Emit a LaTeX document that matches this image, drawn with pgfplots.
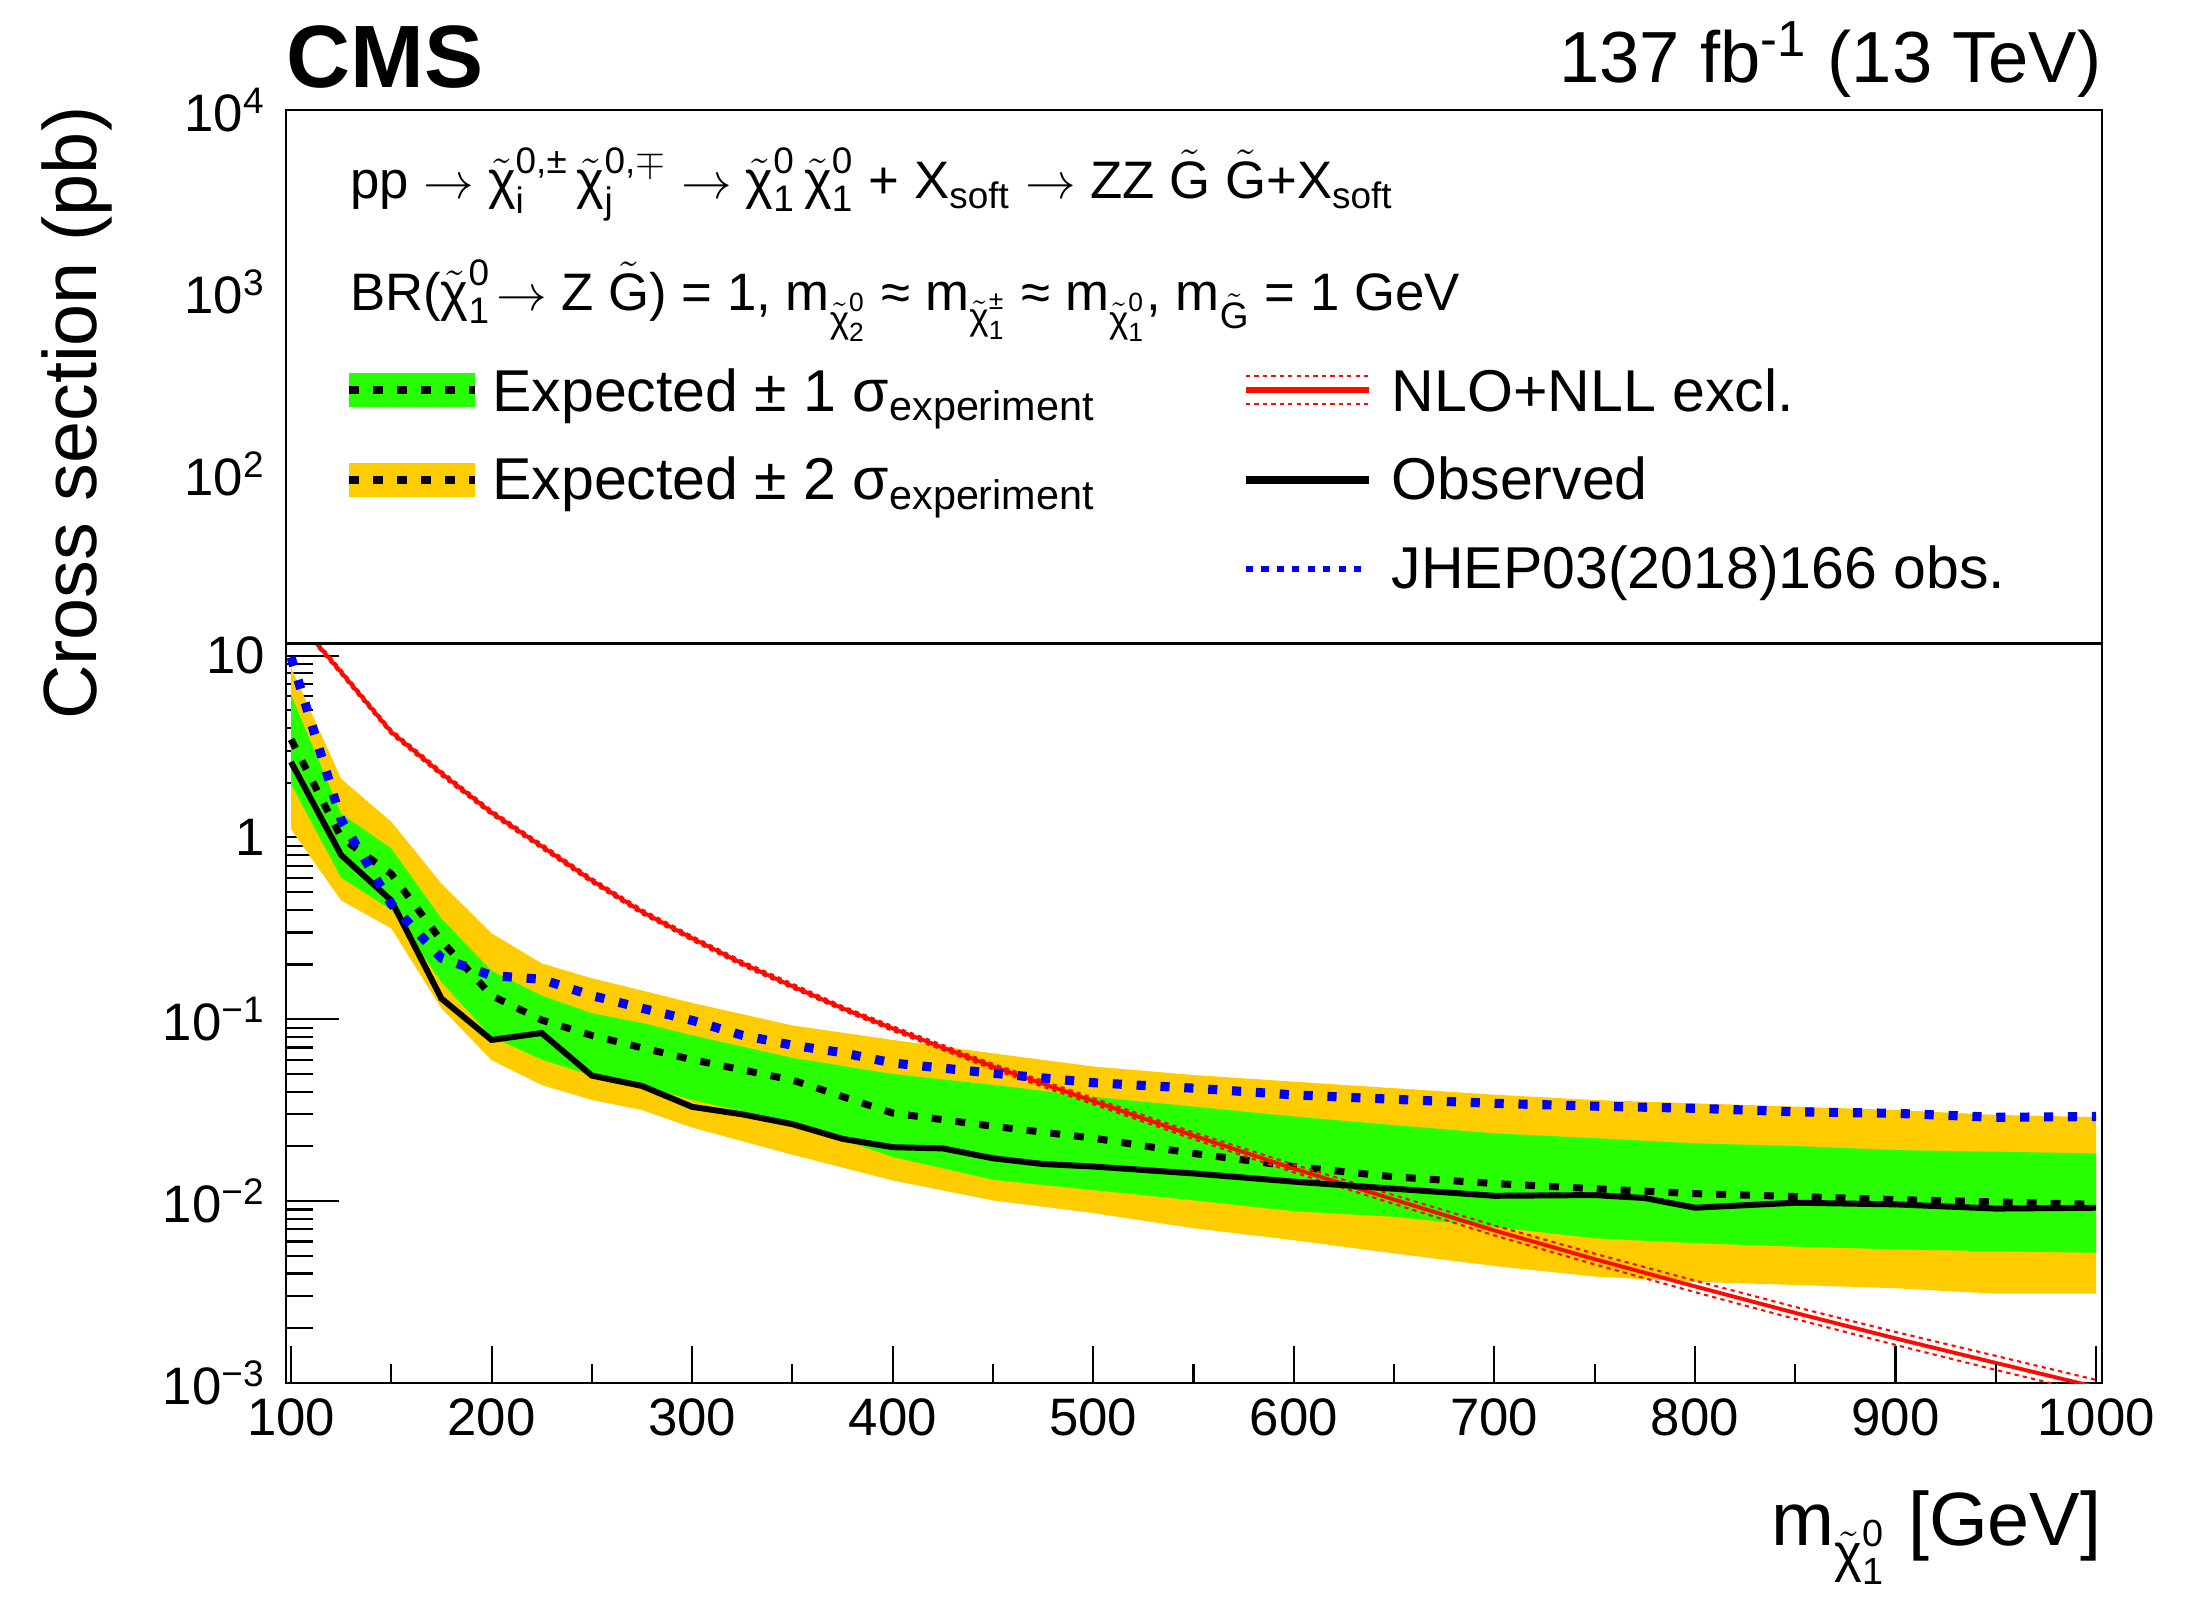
\documentclass[border=0pt]{standalone}
\usepackage{amsmath}
\usepackage{fontspec}
\setmainfont{Liberation Sans}
\usepackage{pgfplots}
\pgfplotsset{compat=1.18}
\definecolor{rgreen}{RGB}{40,255,0}
\definecolor{ryellow}{RGB}{255,204,0}
\definecolor{rblue}{RGB}{0,0,255}
\definecolor{rred}{RGB}{255,10,0}
\newcommand{\chit}{\tilde{\text{χ}}}
\newcommand{\Gt}{\tilde{\text{G}}}
\newcommand{\tickfont}{\fontsize{15}{18}\selectfont}
\newcommand{\legfont}{\fontsize{16.8}{20}\selectfont}
\newcommand{\procfont}{\fontsize{15}{18}\selectfont}
\newcommand{\labfont}{\fontsize{21.5}{26}\selectfont}
\tikzset{
  expstyle/.style={black, line width=2pt, dash pattern=on 2.8pt off 4pt},
  obsstyle/.style={black, line width=1.7pt},
  bluestyle/.style={rblue, line width=2.6pt, dash pattern=on 2.6pt off 4.2pt},
  redstyle/.style={rred, line width=1.1pt},
  reddash/.style={rred, line width=0.6pt, dash pattern=on 1.2pt off 1.2pt},
}
\begin{document}
\begin{tikzpicture}
\begin{axis}[
  name=ax, scale only axis, width=18.16cm, height=12.73cm,
  ymode=log, xmin=97.5, xmax=1003, ymin=1e-3, ymax=1e4,
  axis line style={line width=0.8pt},
  xtick=\empty,
  ytick pos=left,
  ytick={1e-3,1e-2,1e-1,1,10,100,1000,10000},
  yticklabels={10\textsuperscript{−3},10\textsuperscript{−2},10\textsuperscript{−1},1,10,10\textsuperscript{2},10\textsuperscript{3},10\textsuperscript{4}},
  minor ytick={2e-3,3e-3,4e-3,5e-3,6e-3,7e-3,8e-3,9e-3,0.02,0.03,0.04,0.05,0.06,0.07,0.08,0.09,0.2,0.3,0.4,0.5,0.6,0.7,0.8,0.9,2,3,4,5,6,7,8,9},
  yticklabel style={font=\tickfont, inner sep=0pt, anchor=east, xshift=-0.2cm},
  major tick length=0.53cm, minor tick length=0.27cm,
  tick style={black, line width=0.6pt},
  clip=true,
]
% +-2 sigma band
\addplot[fill=ryellow, draw=none] coordinates {
(100,8.6)(125,2.1)(150,1.22)(175,0.557)(200,0.297)(225,0.203)(250,0.168)(275,0.144)(300,0.123)(350,0.0925)(400,0.077)(450,0.065)(500,0.055)(550,0.0494)(600,0.0454)(650,0.0418)(700,0.0385)(750,0.036)(800,0.0345)(850,0.0331)(900,0.0317)(950,0.0298)(1000,0.029)
(1000,0.0031)(950,0.0031)(900,0.00332)(850,0.00346)(800,0.0036)(750,0.00385)(700,0.0044)(650,0.00516)(600,0.0061)(550,0.0071)(500,0.0086)(450,0.0101)(400,0.013)(350,0.018)(300,0.0254)(275,0.0317)(250,0.036)(225,0.0435)(200,0.0596)(175,0.115)(150,0.316)(125,0.45)(100,1.11)
} -- cycle;
% +-1 sigma band
\addplot[fill=rgreen, draw=none] coordinates {
(100,6.1)(125,1.35)(150,0.87)(175,0.358)(200,0.185)(225,0.135)(250,0.108)(275,0.0955)(300,0.0816)(350,0.0614)(400,0.050)(450,0.0436)(500,0.0375)(550,0.0331)(600,0.0292)(650,0.0262)(700,0.0236)(750,0.0222)(800,0.0208)(850,0.0201)(900,0.0191)(950,0.0187)(1000,0.0183)
(1000,0.0052)(950,0.0053)(900,0.00543)(850,0.00562)(800,0.00587)(750,0.00625)(700,0.0072)(650,0.0082)(600,0.0088)(550,0.0101)(500,0.0115)(450,0.0131)(400,0.0175)(350,0.027)(300,0.036)(275,0.043)(250,0.049)(225,0.06)(200,0.08)(175,0.16)(150,0.40)(125,0.60)(100,1.96)
} -- cycle;
% expected
\addplot[expstyle] coordinates {
(100,3.46)(125,1.0)(150,0.63)(175,0.27)(200,0.135)(225,0.099)(250,0.0815)(275,0.0697)(300,0.060)(350,0.0463)(400,0.0305)(450,0.0258)(500,0.0222)(550,0.0183)(600,0.0155)(650,0.0136)(700,0.0125)(750,0.0117)(800,0.011)(850,0.0106)(900,0.0102)(950,0.0099)(1000,0.0096)
};
% theory uncertainty
\addplot[reddash] coordinates {
(100,17.5)(125,8.34)(150,3.91)(175,2.32)(200,1.41)(225,0.921)(250,0.597)(275,0.402)(300,0.287)(325,0.209)(350,0.157)(375,0.118)(400,0.0917)(450,0.0569)(500,0.0369)(550,0.0239)(600,0.0159)(650,0.01078)(700,0.00735)(750,0.00514)(800,0.00366)(850,0.00262)(900,0.00191)(950,0.00141)(1000,0.00104)
};
\addplot[reddash] coordinates {
(100,16.5)(125,7.86)(150,3.69)(175,2.18)(200,1.33)(225,0.868)(250,0.563)(275,0.379)(300,0.271)(325,0.197)(350,0.148)(375,0.112)(400,0.0864)(450,0.0531)(500,0.0341)(550,0.0219)(600,0.0144)(650,0.00965)(700,0.00648)(750,0.00449)(800,0.00316)(850,0.00225)(900,0.00162)(950,0.00118)(1000,0.00087)
};
% theory
\addplot[redstyle] coordinates {
(100,17.0)(125,8.1)(150,3.8)(175,2.25)(200,1.37)(225,0.894)(250,0.58)(275,0.39)(300,0.279)(325,0.203)(350,0.152)(375,0.115)(400,0.089)(450,0.055)(500,0.0355)(550,0.0229)(600,0.0151)(650,0.0102)(700,0.0069)(750,0.0048)(800,0.0034)(850,0.00243)(900,0.00176)(950,0.00129)(1000,0.00095)
};
% observed
\addplot[obsstyle] coordinates {
(100,2.6)(125,0.80)(150,0.45)(175,0.13)(200,0.077)(225,0.084)(250,0.049)(275,0.043)(300,0.033)(325,0.030)(350,0.0265)(375,0.022)(400,0.0198)(425,0.0195)(450,0.0172)(475,0.016)(500,0.0155)(550,0.0142)(600,0.0128)(650,0.0117)(700,0.0107)(750,0.0108)(775,0.0104)(800,0.0092)(850,0.0098)(900,0.0096)(950,0.0091)(1000,0.0092)
};
% previous result
\addplot[bluestyle] coordinates {
(100,9.8)(125,1.25)(150,0.43)(175,0.217)(200,0.174)(225,0.166)(250,0.135)(275,0.115)(300,0.0986)(325,0.0817)(350,0.072)(375,0.0655)(400,0.0575)(450,0.0505)(500,0.0448)(550,0.0418)(600,0.0384)(650,0.0363)(700,0.0345)(750,0.0333)(800,0.0324)(850,0.031)(900,0.0304)(950,0.0289)(1000,0.0292)
};
\coordinate (lb) at (rel axis cs:0,0.5807);
\end{axis}
\begin{axis}[
  scale only axis, width=18.16cm, height=12.73cm,
  xmin=97.5, xmax=1003, ymin=0, ymax=1,
  axis line style={draw=none},
  ytick=\empty, xtick pos=left,
  xtick={100,200,300,400,500,600,700,800,900,1000},
  xticklabels={100,200,300,400,500,600,700,800,900,1000},
  minor x tick num=1,
  xticklabel style={font=\tickfont, inner sep=0pt, anchor=north, yshift=-0.15cm},
  major tick length=0.37cm, minor tick length=0.19cm,
  tick style={black, line width=0.6pt},
]
\addplot[draw=none] coordinates {(500,0.5)};
\end{axis}
% legend box
\filldraw[fill=white, draw=black, line width=0.8pt] (lb) rectangle (ax.north east);
\node[anchor=base west, inner sep=0pt, font=\procfont] at ([shift={(0.634cm,-0.89cm)}]ax.north west)
  {pp $\rightarrow \chit^{\text{0,±}}_{\text{i}}\,\chit^{\text{0,}\mp}_{\text{j}}\rightarrow \chit^{\text{0}}_{\text{1}}\,\chit^{\text{0}}_{\text{1}}$ + X$_{\text{soft}}$ $\rightarrow$ ZZ $\Gt$ $\Gt$+X$_{\text{soft}}$};
\node[anchor=base west, inner sep=0pt, font=\procfont] at ([shift={(0.634cm,-2.01cm)}]ax.north west)
  {BR($\chit^{\text{0}}_{\text{1}}\!\rightarrow$ Z $\Gt$) = 1, m$_{\chit^{\text{0}}_{\text{2}}}$ ≈ m$_{\chit^{\text{±}}_{\text{1}}}$ ≈ m$_{\chit^{\text{0}}_{\text{1}}}$, m$_{\Gt}$ = 1 GeV};
% legend entries left
\fill[rgreen] ([shift={(0.634cm,-2.97cm)}]ax.north west) rectangle ([shift={(1.887cm,-2.63cm)}]ax.north west);
\draw[expstyle] ([shift={(0.634cm,-2.80cm)}]ax.north west) -- ([shift={(1.887cm,-2.80cm)}]ax.north west);
\node[anchor=base west, inner sep=0pt, font=\legfont] at ([shift={(2.056cm,-3.013cm)}]ax.north west) {Expected ± 1 σ$_{\text{experiment}}$};
\fill[ryellow] ([shift={(0.634cm,-3.87cm)}]ax.north west) rectangle ([shift={(1.887cm,-3.53cm)}]ax.north west);
\draw[expstyle] ([shift={(0.634cm,-3.70cm)}]ax.north west) -- ([shift={(1.887cm,-3.70cm)}]ax.north west);
\node[anchor=base west, inner sep=0pt, font=\legfont] at ([shift={(2.056cm,-3.90cm)}]ax.north west) {Expected ± 2 σ$_{\text{experiment}}$};
% legend entries right
\draw[redstyle, line width=1.6pt] ([shift={(9.60cm,-2.80cm)}]ax.north west) -- ([shift={(10.83cm,-2.80cm)}]ax.north west);
\draw[reddash] ([shift={(9.60cm,-2.66cm)}]ax.north west) -- ([shift={(10.83cm,-2.66cm)}]ax.north west);
\draw[reddash] ([shift={(9.60cm,-2.94cm)}]ax.north west) -- ([shift={(10.83cm,-2.94cm)}]ax.north west);
\node[anchor=base west, inner sep=0pt, font=\legfont] at ([shift={(11.05cm,-3.013cm)}]ax.north west) {NLO+NLL excl.};
\draw[obsstyle, line width=2.4pt] ([shift={(9.60cm,-3.70cm)}]ax.north west) -- ([shift={(10.83cm,-3.70cm)}]ax.north west);
\node[anchor=base west, inner sep=0pt, font=\legfont] at ([shift={(11.05cm,-3.90cm)}]ax.north west) {Observed};
\draw[rblue, line width=1.5pt, dash pattern=on 2pt off 2.4pt] ([shift={(9.60cm,-4.59cm)}]ax.north west) -- ([shift={(10.83cm,-4.59cm)}]ax.north west);
\node[anchor=base west, inner sep=0pt, font=\legfont] at ([shift={(11.05cm,-4.79cm)}]ax.north west) {JHEP03(2018)166 obs.};
% titles and labels
\node[anchor=base west, inner sep=0pt, font=\fontsize{25.2}{30}\selectfont\bfseries] at ([shift={(0,0.227cm)}]ax.north west) {CMS};
\node[anchor=base east, inner sep=0pt, font=\fontsize{20.6}{25}\selectfont] at ([shift={(0,0.27cm)}]ax.north east) {137 fb\textsuperscript{-1} (13 TeV)};
\node[rotate=90, anchor=base east, inner sep=0pt, font=\labfont] at ([shift={(-1.89cm,0.04cm)}]ax.north west) {Cross section (pb)};
\node[anchor=base east, inner sep=0pt, font=\labfont] at ([shift={(0,-1.62cm)}]ax.south east) {m$_{\chit^{\text{0}}_{\text{1}}}$ [GeV]};
\pgfresetboundingbox
\path (ax.south west) ++(-2.86cm,-2.25cm) rectangle ++(22.08cm,16.08cm);
\end{tikzpicture}
\end{document}
